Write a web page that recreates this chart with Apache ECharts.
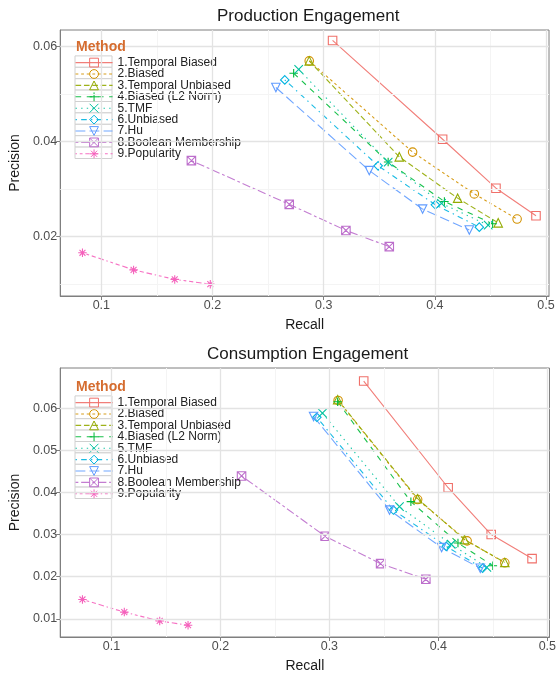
<!DOCTYPE html>
<html><head><meta charset="utf-8">
<script src="https://cdn.jsdelivr.net/npm/echarts@6/dist/echarts.min.js"></script>
<style>html,body{margin:0;padding:0;background:#fff}#c{width:559px;height:675px}</style>
</head><body><div id="c"></div><script>
const methods = ['1.Temporal Biased','2.Biased','3.Temporal Unbiased','4.Biased (L2 Norm)','5.TMF','6.Unbiased','7.Hu','8.Boolean Membership','9.Popularity'];

// Production Engagement
const prodRecall = [
  [0.308, 0.407, 0.455, 0.491],
  [0.287, 0.380, 0.4355, 0.474],
  [0.287, 0.368, 0.4205, 0.457],
  [0.273, 0.358, 0.4086, 0.452],
  [0.2775, 0.358, 0.406, 0.448],
  [0.265, 0.349, 0.4005, 0.440],
  [0.257, 0.341, 0.389, 0.431],
  [0.181, 0.269, 0.320, 0.359],
  [0.083, 0.129, 0.166, 0.198]
];
const prodPrecision = [
  [0.0613, 0.0405, 0.0302, 0.0244],
  [0.0570, 0.0378, 0.0290, 0.0237],
  [0.0570, 0.0368, 0.0281, 0.0229],
  [0.0544, 0.0357, 0.0274, 0.0227],
  [0.0552, 0.0357, 0.0270, 0.0224],
  [0.0530, 0.0349, 0.0267, 0.0220],
  [0.0514, 0.0339, 0.0258, 0.0214],
  [0.0360, 0.0268, 0.0213, 0.0179],
  [0.0166, 0.0130, 0.0110, 0.0100]
];

// Consumption Engagement
const consRecall = [
  [0.3315, 0.409, 0.4485, 0.486],
  [0.308, 0.381, 0.4264, 0.461],
  [0.3076, 0.381, 0.424, 0.461],
  [0.3076, 0.3748, 0.418, 0.450],
  [0.2936, 0.3643, 0.4118, 0.4445],
  [0.2885, 0.3588, 0.4073, 0.4406],
  [0.2855, 0.3552, 0.403, 0.4385],
  [0.2194, 0.2961, 0.347, 0.3885],
  [0.0734, 0.1118, 0.1443, 0.1703]
];
const consPrecision = [
  [0.0664, 0.0411, 0.0300, 0.0243],
  [0.0618, 0.0383, 0.0285, 0.0233],
  [0.0620, 0.0385, 0.0288, 0.0234],
  [0.0615, 0.0378, 0.0280, 0.0226],
  [0.0588, 0.0366, 0.0277, 0.0222],
  [0.0578, 0.0358, 0.0272, 0.0220],
  [0.0580, 0.0358, 0.0269, 0.0220],
  [0.0439, 0.0296, 0.0231, 0.0194],
  [0.0146, 0.0116, 0.0095, 0.0085]
];

const prodXTicks = [0.1, 0.2, 0.3, 0.4, 0.5];
const prodXMinor = [0.15, 0.25, 0.35, 0.45];
const prodYTicks = [0.02, 0.04, 0.06];
const prodYMinor = [0.01, 0.03, 0.05];
const consXTicks = [0.1, 0.2, 0.3, 0.4, 0.5];
const consXMinor = [0.15, 0.25, 0.35, 0.45];
const consYTicks = [0.01, 0.02, 0.03, 0.04, 0.05, 0.06];
const consYMinor = [0.015, 0.025, 0.035, 0.045, 0.055, 0.065];

const colors = ['#F0706A','#D39200','#93AA00','#00BA38','#00C19F','#00B4E0','#619CFF','#BD6FCC','#F562BC'];
const dashes = ['solid',[2.8,2.8],[5.6,2.8],[5.6,5.6],[1.4,4.2],[1.4,4.2,5.6,4.2],[9.8,4.2],[2.8,2.8,8.4,2.8],[1.4,2.8,2.8,2.8,4.2,2.8,5.6,2.8]];
const symbols = [
  'path://M0,0L10,0L10,10L0,10Z',
  'circle',
  'path://M5,0L10,9L0,9Z',
  'path://M5,0L5,10M0,5L10,5',
  'path://M0,0L10,10M10,0L0,10',
  'path://M5,0L10,5L5,10L0,5Z',
  'path://M0,0L10,0L5,9Z',
  'path://M0,0L10,0L10,10L0,10ZM0,0L10,10M10,0L0,10',
  'path://M5,0L5,10M0,5L10,5M1.5,1.5L8.5,8.5M8.5,1.5L1.5,8.5'
];
const FF = '"Liberation Sans", Arial, sans-serif';

function mkSeries(recall, prec, gi) {
  return methods.map((m, i) => ({
    name: m, type: 'line', xAxisIndex: gi, yAxisIndex: gi,
    data: recall[i].map((r, j) => [r, prec[i][j]]),
    symbol: symbols[i], symbolSize: 8.5, z: 3,
    lineStyle: { color: colors[i], width: 1.1, type: dashes[i], opacity: 0.9 },
    itemStyle: { color: 'rgba(255,255,255,0)', borderColor: colors[i], borderWidth: 1.1 },
    emphasis: { disabled: true }
  }));
}
function gridLines(gi, xMaj, xMin, yMaj, yMin) {
  const maj = '#e3e3e3', mnr = '#f4f4f4';
  return {
    type: 'line', xAxisIndex: gi, yAxisIndex: gi, data: [], silent: true, z: 1,
    markLine: {
      silent: true, symbol: 'none', label: { show: false }, animation: false,
      data: [
        ...xMin.map(v => ({ xAxis: v, lineStyle: { color: mnr, type: 'solid', width: 1 } })),
        ...yMin.map(v => ({ yAxis: v, lineStyle: { color: mnr, type: 'solid', width: 1 } })),
        ...xMaj.map(v => ({ xAxis: v, lineStyle: { color: maj, type: 'solid', width: 1.3 } })),
        ...yMaj.map(v => ({ yAxis: v, lineStyle: { color: maj, type: 'solid', width: 1.3 } }))
      ]
    }
  };
}
function xAx(gi, min, max, ticks) {
  return {
    type: 'value', gridIndex: gi, min: min, max: max,
    name: 'Recall', nameLocation: 'middle', nameGap: 22,
    nameTextStyle: { fontSize: 14, color: '#1a1a1a', fontFamily: FF },
    axisLine: { show: true, onZero: false, lineStyle: { color: '#7f7f7f', width: 1 } },
    axisTick: { show: true, length: 4, customValues: ticks, lineStyle: { color: '#7f7f7f' } },
    axisLabel: { customValues: ticks, margin: 3, fontSize: 12.5, color: '#4d4d4d', fontFamily: FF, formatter: v => v.toFixed(1) },
    splitLine: { show: false }
  };
}
function yAx(gi, min, max, ticks) {
  return {
    type: 'value', gridIndex: gi, min: min, max: max,
    name: 'Precision', nameLocation: 'middle', nameGap: 26, nameRotate: 90,
    nameTextStyle: { fontSize: 14, color: '#1a1a1a', fontFamily: FF },
    axisLine: { show: true, onZero: false, lineStyle: { color: '#7f7f7f', width: 1 } },
    axisTick: { show: true, length: 4, customValues: ticks, lineStyle: { color: '#7f7f7f' } },
    axisLabel: { customValues: ticks, margin: 3, fontSize: 12.5, color: '#4d4d4d', fontFamily: FF, formatter: v => v.toFixed(2) },
    splitLine: { show: false }
  };
}
function legendAt(top) {
  return {
    data: methods, orient: 'vertical', left: 75, top: top, padding: 0, z: 5,
    itemWidth: 37, itemHeight: 11, itemGap: -0.6, selectedMode: false,
    lineStyle: { width: 1.1 },
    itemStyle: { borderWidth: 1 },
    textStyle: { fontSize: 12, color: '#222', fontFamily: FF, lineHeight: 12 }
  };
}
function legendBack(top) {
  const els = [{
    type: 'rect', z: 2.5, silent: true,
    shape: { x: 72, y: top - 18, width: 172, height: 9 * 11.4 + 20 },
    style: { fill: 'rgba(255,255,255,0.75)' }
  }];
  methods.forEach((m, i) => els.push({
    type: 'rect', z: 2.6, silent: true,
    shape: { x: 75, y: top + i * 11.4 - 0.7, width: 37, height: 11.4 },
    style: { fill: '#ffffff', stroke: '#d0d0d0', lineWidth: 1 }
  }));
  return els;
}

const chart = echarts.init(document.getElementById('c'), null, { renderer: 'canvas' });
chart.setOption({
  animation: false,
  backgroundColor: '#fff',
  grid: [
    { left: 59, right: 10, top: 30, height: 266, show: true, borderColor: '#7f7f7f', borderWidth: 1, backgroundColor: '#fff' },
    { left: 59, right: 6, top: 368, height: 269, show: true, borderColor: '#7f7f7f', borderWidth: 1, backgroundColor: '#fff' }
  ],
  xAxis: [xAx(0, 0.063, 0.5027, prodXTicks), xAx(1, 0.053, 0.502, consXTicks)],
  yAxis: [yAx(0, 0.0075, 0.0635, prodYTicks), yAx(1, 0.0057, 0.0695, consYTicks)],
  legend: [legendAt(56.6), legendAt(396.6)],
  graphic: [
    ...legendBack(56.6), ...legendBack(396.6),
    { type: 'text', z: 6, left: 217, top: 8, style: { text: 'Production Engagement', font: '17px ' + FF, fill: '#1a1a1a' } },
    { type: 'text', z: 6, left: 207, top: 346, style: { text: 'Consumption Engagement', font: '17px ' + FF, fill: '#1a1a1a' } },
    { type: 'text', z: 6, left: 76, top: 40, style: { text: 'Method', font: 'bold 14px ' + FF, fill: '#D56C2F' } },
    { type: 'text', z: 6, left: 76, top: 380, style: { text: 'Method', font: 'bold 14px ' + FF, fill: '#D56C2F' } }
  ],
  series: [
    gridLines(0, prodXTicks, prodXMinor, prodYTicks, prodYMinor),
    gridLines(1, consXTicks, consXMinor, consYTicks, consYMinor),
    ...mkSeries(prodRecall, prodPrecision, 0),
    ...mkSeries(consRecall, consPrecision, 1)
  ]
});
</script></body></html>
